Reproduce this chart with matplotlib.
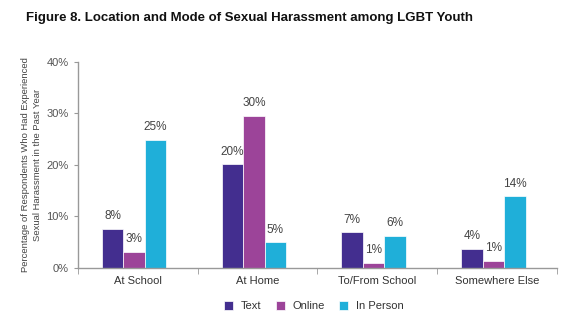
import numpy as np
import matplotlib.pyplot as plt

categories = ["At School", "At Home", "To/From School", "Somewhere Else"]
series = ["Text", "Online", "In Person"]
text_vals = [7.6, 20.1, 6.9, 3.7]
online_vals = [3.1, 29.6, 1.0, 1.4]
person_vals = [24.9, 5.0, 6.2, 13.9]
text_labels = ["8%", "20%", "7%", "4%"]
online_labels = ["3%", "30%", "1%", "1%"]
person_labels = ["25%", "5%", "6%", "14%"]
colors = ["#432E8F", "#9C4499", "#1FAFD9"]

plt.rcParams['font.family'] = ['Liberation Sans', 'DejaVu Sans']

fig = plt.figure(figsize=(5.76, 3.26), dpi=100)
ax = fig.add_axes([0.135, 0.178, 0.832, 0.632])

x = np.arange(len(categories))
w = 0.18
vals = [text_vals, online_vals, person_vals]
labs = [text_labels, online_labels, person_labels]
for i, (v, lb, c, s) in enumerate(zip(vals, labs, colors, series)):
    pos = x + (i - 1) * w - 0.03
    bars = ax.bar(pos, v, w, color=c, edgecolor="white", linewidth=0.5, label=s)
    for b, t in zip(bars, lb):
        ax.text(b.get_x() + b.get_width() / 2, b.get_height() + 1.3, t,
                ha="center", va="bottom", fontsize=8.5, color="#444444")

ax.set_xlim(-0.5, 3.5)
ax.set_ylim(0, 40)
ax.set_yticks([0, 10, 20, 30, 40])
ax.set_yticklabels(["0%", "10%", "20%", "30%", "40%"])
ax.set_xticks(x)
ax.set_xticklabels(categories)
ax.set_xticks(np.arange(-0.5, 4, 1), minor=True)
ax.tick_params(axis="x", which="major", length=0, pad=6)
ax.tick_params(axis="x", which="minor", length=4, color="#999999", direction="out")
ax.tick_params(axis="y", length=3, color="#999999", labelsize=8, labelcolor="#555555")
ax.tick_params(axis="x", labelsize=8, labelcolor="#333333")
for sp in ["top", "right"]:
    ax.spines[sp].set_visible(False)
for sp in ["left", "bottom"]:
    ax.spines[sp].set_color("#999999")
    ax.spines[sp].set_linewidth(1)

ax.set_ylabel("Percentage of Respondents Who Had Experienced\nSexual Harassment in the Past Year",
              fontsize=6.8, color="#444444", labelpad=3, linespacing=1.5)

fig.text(0.434, 0.945, "Figure 8. Location and Mode of Sexual Harassment among LGBT Youth",
         ha="center", va="center", fontsize=9.5, fontweight="bold", color="#111111")

fig.legend(loc="center", bbox_to_anchor=(0.545, 0.06), ncol=3, frameon=False,
           fontsize=8, handlelength=0.8, handleheight=0.8, columnspacing=1.3,
           handletextpad=0.7, labelcolor="#333333")

fig.savefig("out.png", dpi=100)
